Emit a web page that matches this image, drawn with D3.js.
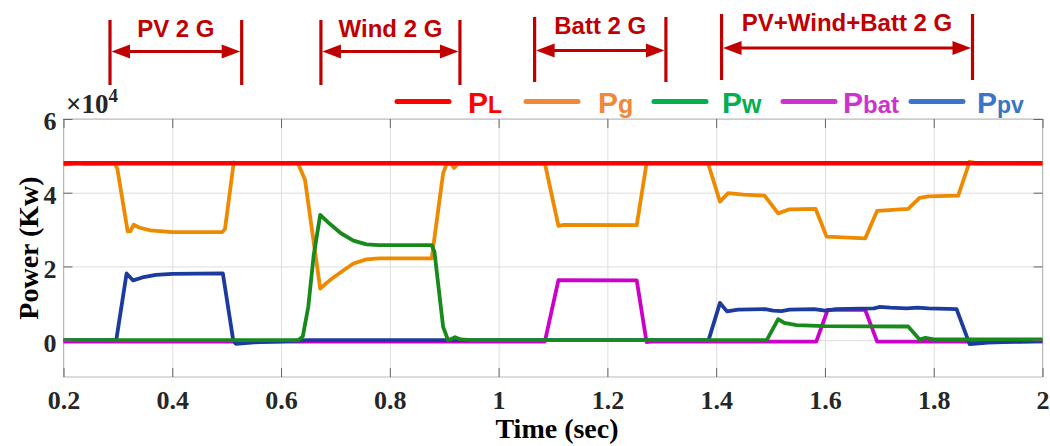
<!DOCTYPE html>
<html>
<head>
<meta charset="utf-8">
<script src="https://cdn.jsdelivr.net/npm/d3@7"></script>
<style>
  body { margin: 0; background: #fff; }
  svg { display: block; }
</style>
</head>
<body>
<svg id="chart"></svg>
<script>
// time (sec) and power (kW)
const pL = [[0.2, 48000], [2.0, 48000]];

const pG = [
  [0.20, 47600], [0.215, 47800], [0.225, 48100], [0.24, 47800], [0.294, 48000], [0.299, 46500],
  [0.318, 29500], [0.323, 29600], [0.329, 31300], [0.34, 30500], [0.36, 29800], [0.40, 29300],
  [0.492, 29300], [0.497, 30200], [0.513, 48200], [0.52, 48000], [0.631, 48000], [0.644, 43500],
  [0.672, 14000], [0.69, 16300], [0.708, 18200], [0.733, 20800], [0.757, 21900], [0.78, 22200],
  [0.877, 22200], [0.898, 45300], [0.904, 47600], [0.912, 48000], [0.918, 46700], [0.925, 47800],
  [1.085, 48000], [1.11, 31000], [1.12, 31300], [1.254, 31200], [1.272, 48000], [1.385, 48000],
  [1.407, 37600], [1.422, 39900], [1.45, 39500], [1.489, 39200], [1.514, 34400], [1.535, 35500],
  [1.583, 35600], [1.603, 28100], [1.674, 27600], [1.696, 35100], [1.753, 35600], [1.774, 38600],
  [1.79, 39000], [1.845, 39200], [1.866, 48400], [1.88, 48000], [2.0, 47900]
];

const pW = [
  [0.2, 0], [0.632, 0], [0.64, 1000], [0.65, 9000], [0.66, 23000], [0.672, 34000], [0.69, 31500],
  [0.71, 29000], [0.733, 27000], [0.757, 26000], [0.78, 25800], [0.877, 25800], [0.882, 24000],
  [0.898, 3600], [0.907, 0], [0.913, 300], [0.92, 800], [0.93, 200], [0.95, 0], [1.493, 0],
  [1.514, 5700], [1.525, 4700], [1.548, 4100], [1.6, 3800], [1.753, 3700], [1.774, 200],
  [1.785, 600], [1.80, 200], [2.0, 200]
];

const pBat = [
  [0.2, -400], [1.085, -400], [1.11, 16300], [1.254, 16200], [1.272, -500], [1.28, -400],
  [1.584, -400], [1.605, 8200], [1.674, 8200], [1.696, -400], [2.0, -400]
];

const pPV = [
  [0.2, 0], [0.297, 0], [0.316, 18100], [0.328, 16200], [0.345, 17000], [0.37, 17700], [0.40, 18000],
  [0.493, 18100], [0.512, 0], [0.517, -1000], [0.55, -600], [0.60, -300], [0.65, 0], [1.386, 0],
  [1.407, 10100], [1.42, 7800], [1.44, 8300], [1.49, 8400], [1.505, 8000], [1.52, 7900], [1.535, 8300],
  [1.58, 8400], [1.60, 8000], [1.62, 8400], [1.69, 8600], [1.70, 9000], [1.72, 8800], [1.75, 8600],
  [1.77, 8800], [1.79, 8600], [1.842, 8400], [1.866, -1100], [1.9, -700], [2.0, -200]
];

const xTicks = [0.2, 0.4, 0.6, 0.8, 1, 1.2, 1.4, 1.6, 1.8, 2];
const xTickLabels = ["0.2", "0.4", "0.6", "0.8", "1", "1.2", "1.4", "1.6", "1.8", "2"];
const yTicks = [0, 20000, 40000, 60000];
const yTickLabels = ["0", "2", "4", "6"];

const annLabels = ["PV 2 G", "Wind 2 G", "Batt 2 G", "PV+Wind+Batt 2 G"];
const annStart = [0.2855, 0.6733, 1.0662, 1.4099];
const annEnd = [0.5276, 0.9289, 1.3076, 1.8713];

const width = 1050;
const height = 446;
const margin = { top: 119, right: 7.5, bottom: 69, left: 63.5 };

const svg = d3.select("#chart")
  .attr("width", width)
  .attr("height", height);

const xScale = d3.scaleLinear()
  .domain([0.2, 2])
  .range([margin.left, width - margin.right]);

const yScale = d3.scaleLinear()
  .domain([-10000, 60000])
  .range([height - margin.bottom, margin.top]);

const serif = "'Liberation Serif', 'Times New Roman', serif";
const sans = "'Liberation Sans', Arial, sans-serif";
const plotW = width - margin.right - margin.left;
const plotH = height - margin.bottom - margin.top;

// grid
svg.append("g")
  .attr("transform", `translate(0, ${height - margin.bottom})`)
  .call(d3.axisBottom(xScale).tickValues(xTicks).tickSize(-plotH).tickFormat(""))
  .call(g => g.select(".domain").remove())
  .selectAll("line").attr("stroke", "#dedede");

svg.append("g")
  .attr("transform", `translate(${margin.left},0)`)
  .call(d3.axisLeft(yScale).tickValues(yTicks).tickSize(-plotW).tickFormat(""))
  .call(g => g.select(".domain").remove())
  .selectAll("line").attr("stroke", "#dedede");

// frame
svg.append("rect")
  .attr("x", margin.left)
  .attr("y", margin.top)
  .attr("width", plotW)
  .attr("height", plotH)
  .attr("fill", "none")
  .attr("stroke", "#b8b8b8");

// series
const line = d3.line()
  .x(d => xScale(d[0]))
  .y(d => yScale(d[1]));

const series = [
  { data: pBat, color: "#cc00cc", w: 3.8 },
  { data: pPV, color: "#1c3b9c", w: 3.8 },
  { data: pG, color: "#ee8a00", w: 3.8 },
  { data: pW, color: "#178a1c", w: 3.8 },
  { data: pL, color: "#ff0000", w: 4.5 }
];

svg.selectAll("path.series")
  .data(series)
  .enter()
  .append("path")
  .attr("class", "series")
  .attr("d", d => line(d.data))
  .attr("fill", "none")
  .attr("stroke", d => d.color)
  .attr("stroke-width", d => d.w)
  .attr("stroke-linejoin", "round");

// axes (ticks inside)
const xAxis = svg.append("g")
  .attr("transform", `translate(0, ${height - margin.bottom})`)
  .call(d3.axisBottom(xScale).tickValues(xTicks).tickSize(-9).tickPadding(14)
    .tickFormat((d, i) => xTickLabels[i]));
xAxis.select(".domain").remove();
xAxis.selectAll("line").attr("stroke", "#666");
xAxis.selectAll("text")
  .attr("fill", "#262626")
  .style("font-family", serif)
  .style("font-weight", "bold")
  .style("font-size", "26px");

const xTop = svg.append("g")
  .attr("transform", `translate(0, ${margin.top})`)
  .call(d3.axisTop(xScale).tickValues(xTicks).tickSize(-9).tickFormat(""));
xTop.select(".domain").remove();
xTop.selectAll("line").attr("stroke", "#666");

const yAxis = svg.append("g")
  .attr("transform", `translate(${margin.left},0)`)
  .call(d3.axisLeft(yScale).tickValues(yTicks).tickSize(-9).tickPadding(7)
    .tickFormat((d, i) => yTickLabels[i]));
yAxis.select(".domain").remove();
yAxis.selectAll("line").attr("stroke", "#666");
yAxis.selectAll("text")
  .attr("fill", "#262626")
  .attr("dy", "0.42em")
  .style("font-family", serif)
  .style("font-weight", "bold")
  .style("font-size", "26px");

const yRight = svg.append("g")
  .attr("transform", `translate(${width - margin.right},0)`)
  .call(d3.axisRight(yScale).tickValues(yTicks).tickSize(-9).tickFormat(""));
yRight.select(".domain").remove();
yRight.selectAll("line").attr("stroke", "#666");

// exponent
const expo = svg.append("text")
  .attr("x", 66)
  .attr("y", 113)
  .attr("fill", "#262626")
  .style("font-family", serif)
  .style("font-weight", "bold")
  .style("font-size", "27px");
expo.append("tspan").text("×10");
expo.append("tspan").attr("dy", -11).style("font-size", "19px").text("4");

// axis titles
svg.append("text")
  .attr("x", 557)
  .attr("y", 438)
  .attr("text-anchor", "middle")
  .attr("fill", "#000")
  .style("font-family", serif)
  .style("font-weight", "bold")
  .style("font-size", "28px")
  .text("Time (sec)");

svg.append("text")
  .attr("transform", "rotate(-90)")
  .attr("x", -248)
  .attr("y", 38)
  .attr("text-anchor", "middle")
  .attr("fill", "#000")
  .style("font-family", serif)
  .style("font-weight", "bold")
  .style("font-size", "28px")
  .text("Power (Kw)");

// mode annotations
const annRed = "#c00000";
const annTop = [20, 20, 17, 14];
const annBottom = [85, 85, 82, 80];
const annArrowY = [51.5, 51.5, 50.5, 48];
const annTextY = [37, 37, 34, 31];

annLabels.forEach((label, i) => {
  const x0 = xScale(annStart[i]);
  const x1 = xScale(annEnd[i]);
  const g = svg.append("g");
  [x0, x1].forEach(x => {
    g.append("line")
      .attr("x1", x).attr("x2", x)
      .attr("y1", annTop[i]).attr("y2", annBottom[i])
      .attr("stroke", annRed)
      .attr("stroke-width", 3.2);
  });
  const ay = annArrowY[i];
  g.append("line")
    .attr("x1", x0 + 10).attr("x2", x1 - 10)
    .attr("y1", ay).attr("y2", ay)
    .attr("stroke", annRed)
    .attr("stroke-width", 3);
  g.append("path")
    .attr("d", `M${x0 + 1.5},${ay} L${x0 + 20},${ay - 7} L${x0 + 20},${ay + 7} Z`)
    .attr("fill", annRed);
  g.append("path")
    .attr("d", `M${x1 - 1.5},${ay} L${x1 - 20},${ay - 7} L${x1 - 20},${ay + 7} Z`)
    .attr("fill", annRed);
  g.append("text")
    .attr("x", (x0 + x1) / 2)
    .attr("y", annTextY[i])
    .attr("text-anchor", "middle")
    .attr("fill", annRed)
    .style("font-family", sans)
    .style("font-weight", "bold")
    .style("font-size", "24px")
    .text(label);
});

// legend
const legendItems = [
  { sub: "L", color: "#ff0000", text: "#ff0000", subSize: 23 },
  { sub: "g", color: "#f0883a", text: "#f0883a", subSize: 25 },
  { sub: "w", color: "#00b050", text: "#00b050", subSize: 25 },
  { sub: "bat", color: "#cc33cc", text: "#cc33cc", subSize: 24 },
  { sub: "pv", color: "#3a76c6", text: "#3a76c6", subSize: 23 }
];
const legendLineX = [397, 526, 654, 783, 911];
const legendTextX = [468, 598, 722, 843, 977];

legendItems.forEach((d, i) => {
  svg.append("line")
    .attr("x1", legendLineX[i]).attr("x2", legendLineX[i] + 52)
    .attr("y1", 101.5).attr("y2", 101.5)
    .attr("stroke", d.color)
    .attr("stroke-width", 5)
    .attr("stroke-linecap", "round");
  const t = svg.append("text")
    .attr("x", legendTextX[i])
    .attr("y", 113)
    .attr("fill", d.text)
    .style("font-family", sans)
    .style("font-weight", "bold")
    .style("font-size", "30px");
  t.append("tspan").text("P");
  t.append("tspan").style("font-size", d.subSize + "px").text(d.sub);
});
</script>
</body>
</html>
